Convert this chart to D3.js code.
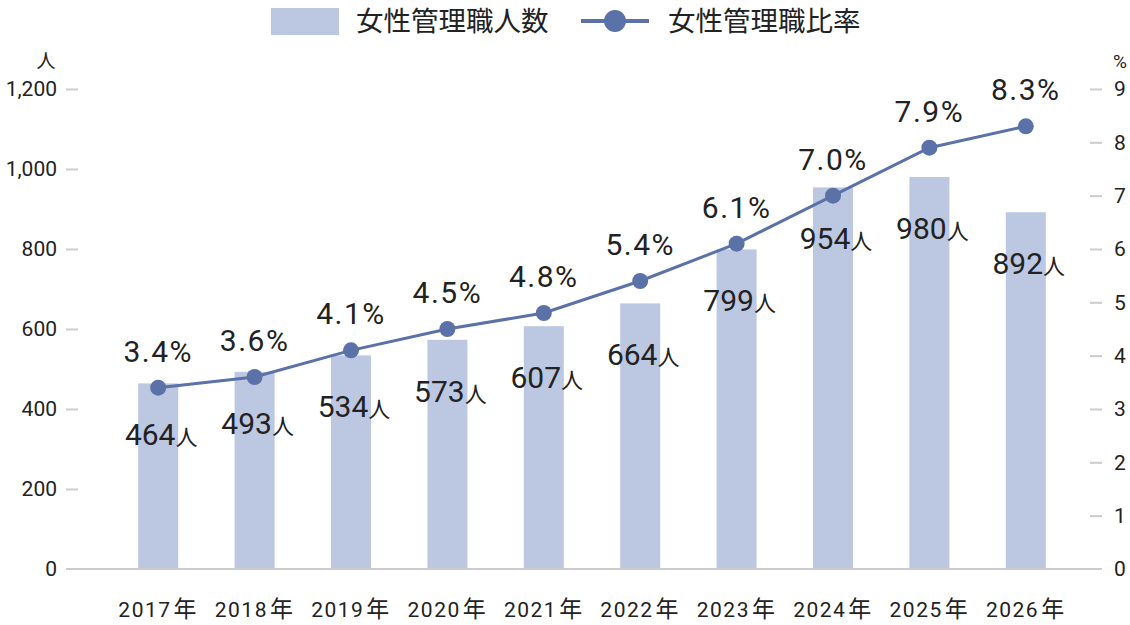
<!DOCTYPE html>
<html>
  <head>
    <meta charset="utf-8">
    <title>女性管理職</title>
    <script src="https://d3js.org/d3.v7.min.js" charset="utf-8"></script>
    <style>
      body { margin: 0; background: #fff; }
      text { font-family: Roboto, "Noto Sans CJK JP", sans-serif; fill: #222; }
      .jp { font-family: "Noto Sans CJK JP", sans-serif; }
    </style>
  </head>
  <body>
    <script>
      var years = ["2017年", "2018年", "2019年", "2020年", "2021年", "2022年", "2023年", "2024年", "2025年", "2026年"];
      var counts = [464, 493, 534, 573, 607, 664, 799, 954, 980, 892];
      var rates = [3.4, 3.6, 4.1, 4.5, 4.8, 5.4, 6.1, 7.0, 7.9, 8.3];
      var leftTicks = [0, 200, 400, 600, 800, 1000, 1200];
      var rightTicks = [0, 1, 2, 3, 4, 5, 6, 7, 8, 9];

      var width = 1130;
      var height = 625;
      var barColor = "#bcc8e2";
      var lineColor = "#5a72a8";

      var svg = d3.select("body")
          .append("svg")
          .attr("width", width)
          .attr("height", height);

      var x = d3.scaleBand().domain(years).range([110, 1074]).paddingInner(0.585).paddingOuter(0.2925);
      var yL = d3.scaleLinear().domain([0, 1200]).range([569, 89]);
      var yR = d3.scaleLinear().domain([0, 9]).range([569, 89]);

      // left axis
      var left = svg.append("g").attr("transform", "translate(78,0)")
        .call(d3.axisLeft(yL).tickValues(leftTicks).tickSize(12).tickPadding(9).tickFormat(d3.format(",")));
      left.select(".domain").remove();
      left.selectAll(".tick line").attr("stroke", "#ccc").attr("stroke-width", 2);
      left.selectAll(".tick line").filter(function(d) { return d === 0; }).remove();
      left.selectAll(".tick text").style("font-size", "21px").attr("fill", "#222");

      // right axis
      var right = svg.append("g").attr("transform", "translate(1090,0)")
        .call(d3.axisRight(yR).tickValues(rightTicks).tickSize(12).tickPadding(12));
      right.select(".domain").remove();
      right.selectAll(".tick line").attr("stroke", "#ccc").attr("stroke-width", 2);
      right.selectAll(".tick line").filter(function(d) { return d === 0; }).remove();
      right.selectAll(".tick text").style("font-size", "21px").attr("fill", "#222");

      svg.append("text").attr("class", "jp").attr("x", 46).attr("y", 68)
        .attr("text-anchor", "middle").style("font-size", "19px").text("人");
      svg.append("text").attr("x", 1120).attr("y", 68)
        .attr("text-anchor", "middle").style("font-size", "19px").text("%");

      // bars
      svg.append("g").selectAll("rect")
        .data(counts)
        .enter()
        .append("rect")
        .attr("x", function(d, i) { return x(years[i]); })
        .attr("y", function(d) { return yL(d); })
        .attr("width", x.bandwidth())
        .attr("height", function(d) { return yL(0) - yL(d); })
        .attr("fill", barColor);

      // baseline
      svg.append("line")
        .attr("x1", 66).attr("x2", 1102)
        .attr("y1", yL(0)).attr("y2", yL(0))
        .attr("stroke", "#ccc").attr("stroke-width", 2);

      // x labels
      var xa = svg.append("g").attr("transform", "translate(0," + yL(0) + ")")
        .call(d3.axisBottom(x).tickSize(0).tickPadding(0));
      xa.select(".domain").remove();
      xa.selectAll(".tick text").remove();
      xa.selectAll(".tick").append("text")
        .attr("y", 48)
        .attr("text-anchor", "middle")
        .style("font-size", "21px")
        .style("letter-spacing", "1.5px")
        .each(function(d) {
          var t = d3.select(this);
          t.append("tspan").text(d.replace("年", ""));
          t.append("tspan").attr("class", "jp").attr("dx", 2).style("font-size", "23px").text("年");
        });

      // count labels
      svg.append("g").selectAll("text")
        .data(counts)
        .enter()
        .append("text")
        .attr("x", function(d, i) { return x(years[i]) + x.bandwidth() / 2 + 3; })
        .attr("y", function(d) { return yL(d) + 62; })
        .attr("text-anchor", "middle")
        .style("font-size", "30px")
        .each(function(d) {
          var t = d3.select(this);
          t.append("tspan").text(d);
          t.append("tspan").attr("class", "jp").style("font-size", "22px").text("人");
        });

      // line
      var line = d3.line()
        .x(function(d, i) { return x(years[i]) + x.bandwidth() / 2; })
        .y(function(d) { return yR(d); });

      svg.append("path")
        .datum(rates)
        .attr("d", line)
        .attr("fill", "none")
        .attr("stroke", lineColor)
        .attr("stroke-width", 3);

      svg.append("g").selectAll("circle")
        .data(rates)
        .enter()
        .append("circle")
        .attr("cx", function(d, i) { return x(years[i]) + x.bandwidth() / 2; })
        .attr("cy", function(d) { return yR(d); })
        .attr("r", 8)
        .attr("fill", lineColor);

      svg.append("g").selectAll("text")
        .data(rates)
        .enter()
        .append("text")
        .attr("x", function(d, i) { return x(years[i]) + x.bandwidth() / 2; })
        .attr("y", function(d) { return yR(d) - 26; })
        .attr("text-anchor", "middle")
        .style("font-size", "30px")
        .style("letter-spacing", "1.5px")
        .text(function(d) { return d.toFixed(1) + "%"; });

      // legend
      var lg = svg.append("g");
      lg.append("rect").attr("x", 271).attr("y", 8).attr("width", 68).attr("height", 27).attr("fill", barColor);
      lg.append("text").attr("class", "jp").attr("x", 356).attr("y", 31).style("font-size", "27.5px").text("女性管理職人数");
      lg.append("line").attr("x1", 581).attr("x2", 649).attr("y1", 21).attr("y2", 21)
        .attr("stroke", lineColor).attr("stroke-width", 4);
      lg.append("circle").attr("cx", 615).attr("cy", 21).attr("r", 11).attr("fill", lineColor);
      lg.append("text").attr("class", "jp").attr("x", 668).attr("y", 31).style("font-size", "27.5px").text("女性管理職比率");
    </script>
  </body>
</html>
